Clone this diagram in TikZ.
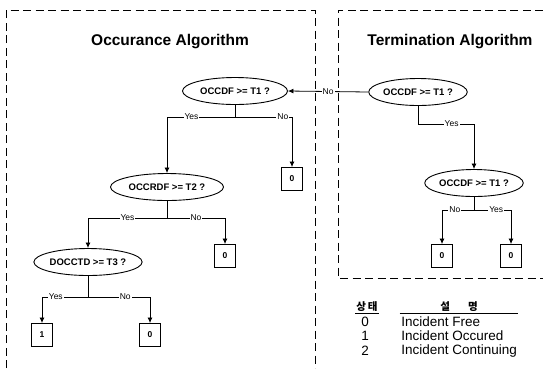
\documentclass[tikz,border=0pt]{standalone}
\usepackage{fontspec}
\setmainfont{Liberation Sans}
\newfontfamily\krfont{Noto Sans CJK KR}
\usetikzlibrary{shapes.geometric,arrows.meta}

\begin{document}
\begin{tikzpicture}
  [x=1pt,y=-1pt,line width=0.8pt,
    every node/.style={inner sep=1pt},
    title/.style={font=\fontsize{15.5}{18}\selectfont\bfseries},
    test/.style={draw,ellipse,minimum height=27pt,inner sep=0pt,line width=0.9pt,
      font=\fontsize{9.5}{11}\selectfont\bfseries},
    state/.style={draw,minimum width=21pt,minimum height=23pt,inner sep=0pt,line width=0.9pt,
      font=\fontsize{8.5}{10}\selectfont\bfseries},
    lbl/.style={fill=white,inner sep=1pt,font=\fontsize{8.5}{10}\selectfont},
    legend/.style={font=\fontsize{13.5}{15}\selectfont},
    header/.style={font=\krfont\bfseries\fontsize{10.5}{12}\selectfont},
    frame/.style={line width=1pt,dash pattern=on 8pt off 4.5pt},
    arr/.style={-{Latex[length=5.5pt,width=5pt]}},
]
  \useasboundingbox (0,0) rectangle (543,368);

  % dashed frames
  \draw[frame] (6,368) -- (6,10) -- (315,10) -- (315,368);
  \draw[frame] (543,10) -- (338,10) -- (338,278) -- (543,278);

  \node[title] (t1) at (170,42) {Occurance Algorithm};
  \node[title] (t2) at (450,42) {Termination Algorithm};

  % occurance tree
  \node[test,minimum width=105pt] (e1) at (235,91) {OCCDF >= T1 ?};
  \node[test,minimum width=113pt] (e2) at (167,187) {OCCRDF >= T2 ?};
  \node[test,minimum width=98pt] (e3) at (88,262) {DOCCTD >= T3 ?};
  \node[state] (s1) at (292,179) {0};
  \node[state] (s2) at (225,256) {0};
  \node[state] (s3) at (42,335) {1};
  \node[state] (s4) at (150,335) {0};

  % termination tree
  \node[test,minimum width=88pt] (e4) at (418,92) {OCCDF >= T1 ?};
  \node[test,minimum width=90pt] (e5) at (474,183) {OCCDF >= T1 ?};
  \node[state] (s5) at (442,256) {0};
  \node[state] (s6) at (511,256) {0};

  \coordinate (b1) at (e1.south |- 0,117);
  \coordinate (b2) at (e2.south |- 0,218);
  \coordinate (b3) at (e3.south |- 0,297);
  \coordinate (b4) at (e4.south |- 0,124);
  \coordinate (b5) at (e5.south |- 0,210);

  \draw (e1.south) -- (b1);
  \draw[arr] (b1) -| node[lbl,pos=0.32] {Yes} (e2.north);
  \draw[arr] (b1) -| node[lbl,pos=0.42] {No} (s1.north);

  \draw (e2.south) -- (b2);
  \draw[arr] (b2) -| node[lbl,pos=0.25] {Yes} (e3.north);
  \draw[arr] (b2) -| node[lbl,pos=0.25] {No} (s2.north);

  \draw (e3.south) -- (b3);
  \draw[arr] (b3) -| node[lbl,pos=0.35] {Yes} (s3.north);
  \draw[arr] (b3) -| node[lbl,pos=0.3] {No} (s4.north);

  \draw[arr] (e4.west) -- node[lbl] {No} (e1.east);
  \draw (e4.south) -- (b4);
  \draw[arr] (b4) -| node[lbl,pos=0.3] {Yes} (e5.north);

  \draw (e5.south) -- (b5);
  \draw[arr] (b5) -| node[lbl,pos=0.3] {No} (s5.north);
  \draw[arr] (b5) -| node[lbl,pos=0.3] {Yes} (s6.north);

  % legend
  \node[header] (h1) at (367,307) {상\,태};
  \draw (h1.south west) -- (h1.south east);
  \node[header,minimum width=118pt] (h2) at (459,307) {설\hspace{18pt}명};
  \draw (h2.south west) -- (h2.south east);
  \node[legend] (n0) at (365,322) {0};
  \node[legend] (n1) at (365,336) {1};
  \node[legend] (n2) at (365,351) {2};
  \node[legend,anchor=west] (d0) at (400,322) {Incident Free};
  \node[legend,anchor=west] (d1) at (400,336) {Incident Occured};
  \node[legend,anchor=west] (d2) at (400,351) {Incident Continuing};
\end{tikzpicture}
\end{document}
